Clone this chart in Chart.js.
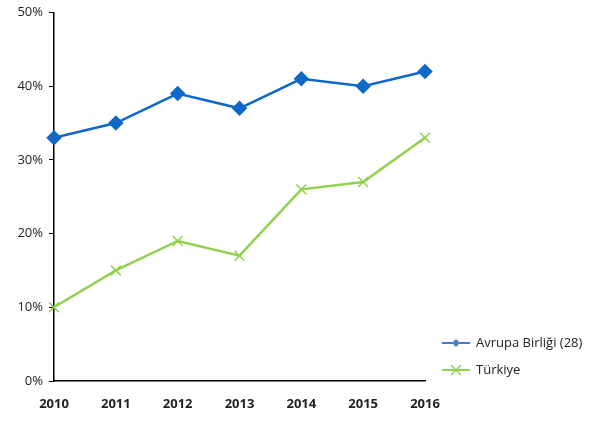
<!DOCTYPE html>
<html>
<head>
<meta charset="utf-8">
<script src="https://cdn.jsdelivr.net/npm/chart.js@4"></script>
<style>
  html, body { margin: 0; padding: 0; background: #fff; }
  #wrap { position: relative; width: 601px; height: 421px; }
</style>
</head>
<body>
<div id="wrap"><canvas id="chart" width="601" height="421"></canvas></div>
<script>
// Data
const years = ['2010','2011','2012','2013','2014','2015','2016'];
const euValues = [33, 35, 39, 37, 41, 40, 42];
const trValues = [10, 15, 19, 17, 26, 27, 33];
const seriesNames = ['Avrupa Birliği (28)', 'Türkiye'];
const yTicks = [0, 10, 20, 30, 40, 50];

const FONT = '"Open Sans", "Liberation Sans", Arial, sans-serif';

// Legend drawn in the free space at the lower right
const sideLegend = {
  id: 'sideLegend',
  afterDraw(chart) {
    const ctx = chart.ctx;
    const items = [
      { text: seriesNames[0], color: '#4a7fc1', style: 'diamond', y: 343 },
      { text: seriesNames[1], color: '#92d050', style: 'cross', y: 370 }
    ];
    ctx.save();
    items.forEach(it => {
      ctx.strokeStyle = it.color;
      ctx.fillStyle = it.color;
      ctx.lineWidth = 2;
      ctx.beginPath();
      ctx.moveTo(442, it.y); ctx.lineTo(470, it.y);
      ctx.stroke();
      const cx = 456;
      if (it.style === 'diamond') {
        ctx.beginPath();
        ctx.moveTo(cx, it.y - 4); ctx.lineTo(cx + 4, it.y);
        ctx.lineTo(cx, it.y + 4); ctx.lineTo(cx - 4, it.y);
        ctx.closePath(); ctx.fill();
      } else {
        ctx.lineWidth = 1.5;
        ctx.beginPath();
        ctx.moveTo(cx - 5, it.y - 5); ctx.lineTo(cx + 5, it.y + 5);
        ctx.moveTo(cx + 5, it.y - 5); ctx.lineTo(cx - 5, it.y + 5);
        ctx.stroke();
      }
      ctx.fillStyle = '#222';
      ctx.font = '13px ' + FONT;
      ctx.textBaseline = 'middle';
      ctx.fillText(it.text, 476, it.y);
    });
    ctx.restore();
  }
};

new Chart(document.getElementById('chart'), {
  type: 'line',
  data: {
    labels: years,
    datasets: [
      {
        label: seriesNames[0], data: euValues,
        borderColor: '#1169c7', backgroundColor: '#1169c7',
        borderWidth: 2.5, pointStyle: 'rectRot', pointRadius: 6,
        pointHoverRadius: 6, tension: 0
      },
      {
        label: seriesNames[1], data: trValues,
        borderColor: '#92d050', backgroundColor: '#92d050',
        borderWidth: 2.5, pointStyle: 'crossRot', pointRadius: 7,
        pointBorderWidth: 1.5, pointHoverRadius: 7, tension: 0
      }
    ]
  },
  options: {
    responsive: false, animation: false,
    layout: { padding: { top: 11, right: 176, left: 0, bottom: 0 } },
    plugins: { legend: { display: false }, tooltip: { enabled: false } },
    scales: {
      x: {
        offset: false,
        afterFit: s => { s.height = 40; },
        grid: { display: false, drawOnChartArea: false, drawTicks: true, tickLength: 6, tickColor: '#000' },
        border: { display: true, color: '#000', width: 1.5 },
        ticks: { color: '#222', font: { family: FONT, size: 13, weight: 'bold' }, padding: 9, maxRotation: 0 }
      },
      y: {
        min: 0, max: 50,
        afterFit: s => { s.width = 54; },
        afterBuildTicks: s => { s.ticks = yTicks.map(v => ({ value: v })); },
        grid: { display: true, drawOnChartArea: false, drawTicks: true, tickLength: 5, tickColor: '#000' },
        border: { display: true, color: '#000', width: 1.5 },
        ticks: { color: '#222', font: { family: FONT, size: 13, lineHeight: 1 }, padding: 6, callback: v => v + '%' }
      }
    }
  },
  plugins: [sideLegend]
});
</script>
</body>
</html>
